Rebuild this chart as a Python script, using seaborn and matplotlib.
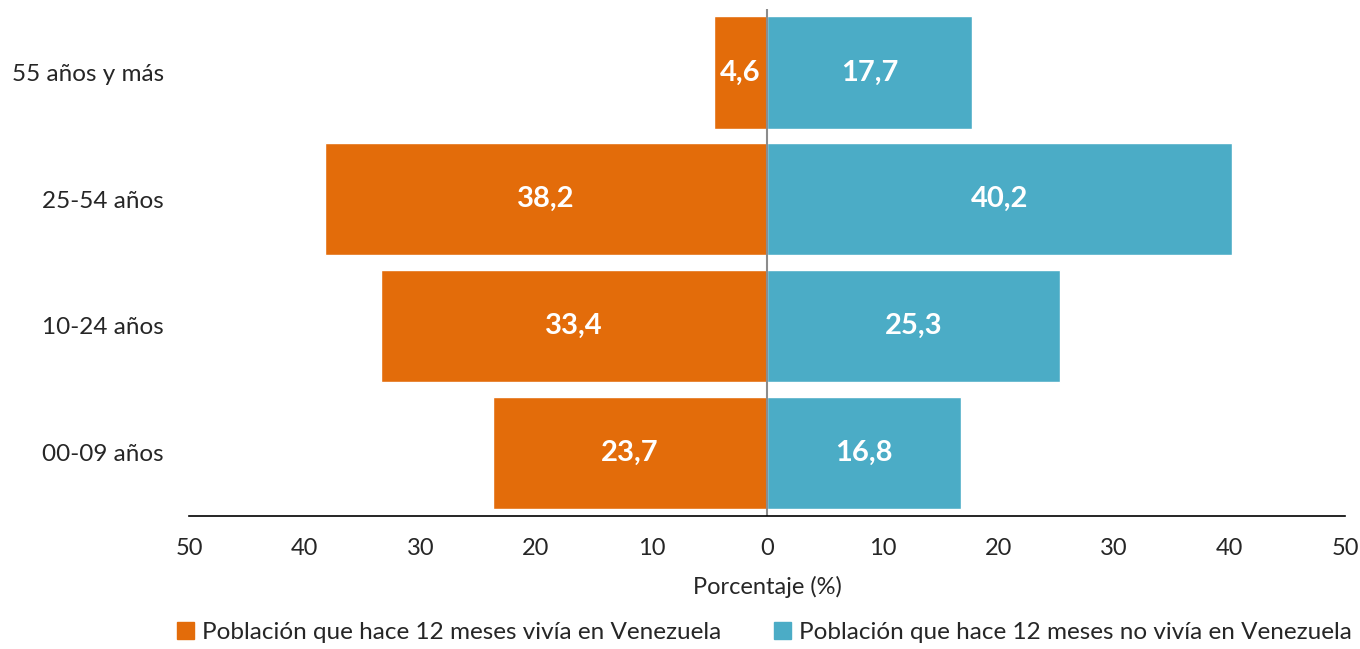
import pandas as pd
import matplotlib.pyplot as plt
import seaborn as sns
from matplotlib.patches import Patch

# --- data ---
grupos = ['55 años y más', '25-54 años', '10-24 años', '00-09 años']
vivia = [4.6, 38.2, 33.4, 23.7]       # left side
no_vivia = [17.7, 40.2, 25.3, 16.8]   # right side
series = ['Población que hace 12 meses vivía en Venezuela',
          'Población que hace 12 meses no vivía en Venezuela']
ticks = [-50, -40, -30, -20, -10, 0, 10, 20, 30, 40, 50]
colores = ['#E36C0A', '#4BACC6']

df = pd.DataFrame({
    'grupo': grupos * 2,
    'valor': [-v for v in vivia] + no_vivia,
    'serie': [series[0]] * 4 + [series[1]] * 4,
})

sns.set_theme(style='white')
plt.rcParams['font.family'] = ['Lato', 'DejaVu Sans']

fig = plt.figure(figsize=(13.6, 6.49), dpi=100)
ax = fig.add_axes([0.139, 0.205, 0.85, 0.781])

sns.barplot(data=df, y='grupo', x='valor', hue='serie', order=grupos,
            hue_order=series, palette=colores, orient='h', dodge=False,
            width=0.885, saturation=1, legend=False, ax=ax)

# value labels
for cont in ax.containers:
    for bar in cont:
        w = bar.get_width()
        ax.text(bar.get_x() + w / 2, bar.get_y() + bar.get_height() / 2,
                f"{abs(w):.1f}".replace('.', ','), ha='center', va='center',
                color='white', fontsize=21, fontweight='bold')

ax.axvline(0, color='#8c8c8c', lw=1.5)
ax.set_xlim(-50, 50)
ax.set_ylim(3.5, -0.5)
ax.set_xticks(ticks)
ax.set_xticklabels([str(abs(t)) for t in ticks], fontsize=17)
ax.tick_params(axis='x', direction='out', length=7, width=1.2, color='black', pad=9)
ax.tick_params(axis='y', length=0, pad=18, labelsize=17.5)
ax.set_ylabel('')
ax.set_xlabel('Porcentaje (%)', fontsize=17, labelpad=12)

for s in ['top', 'left', 'right']:
    ax.spines[s].set_visible(False)
ax.spines['bottom'].set_color('black')
ax.spines['bottom'].set_linewidth(1.2)

handles = [Patch(color=c, label=s) for c, s in zip(colores, series)]
fig.legend(handles=handles, loc='lower center', bbox_to_anchor=(0.562, -0.025),
           ncol=2, frameon=False, fontsize=17.5, handlelength=0.7,
           handleheight=0.7, handletextpad=0.3, columnspacing=2.2)

plt.savefig('out.png', dpi=100)
